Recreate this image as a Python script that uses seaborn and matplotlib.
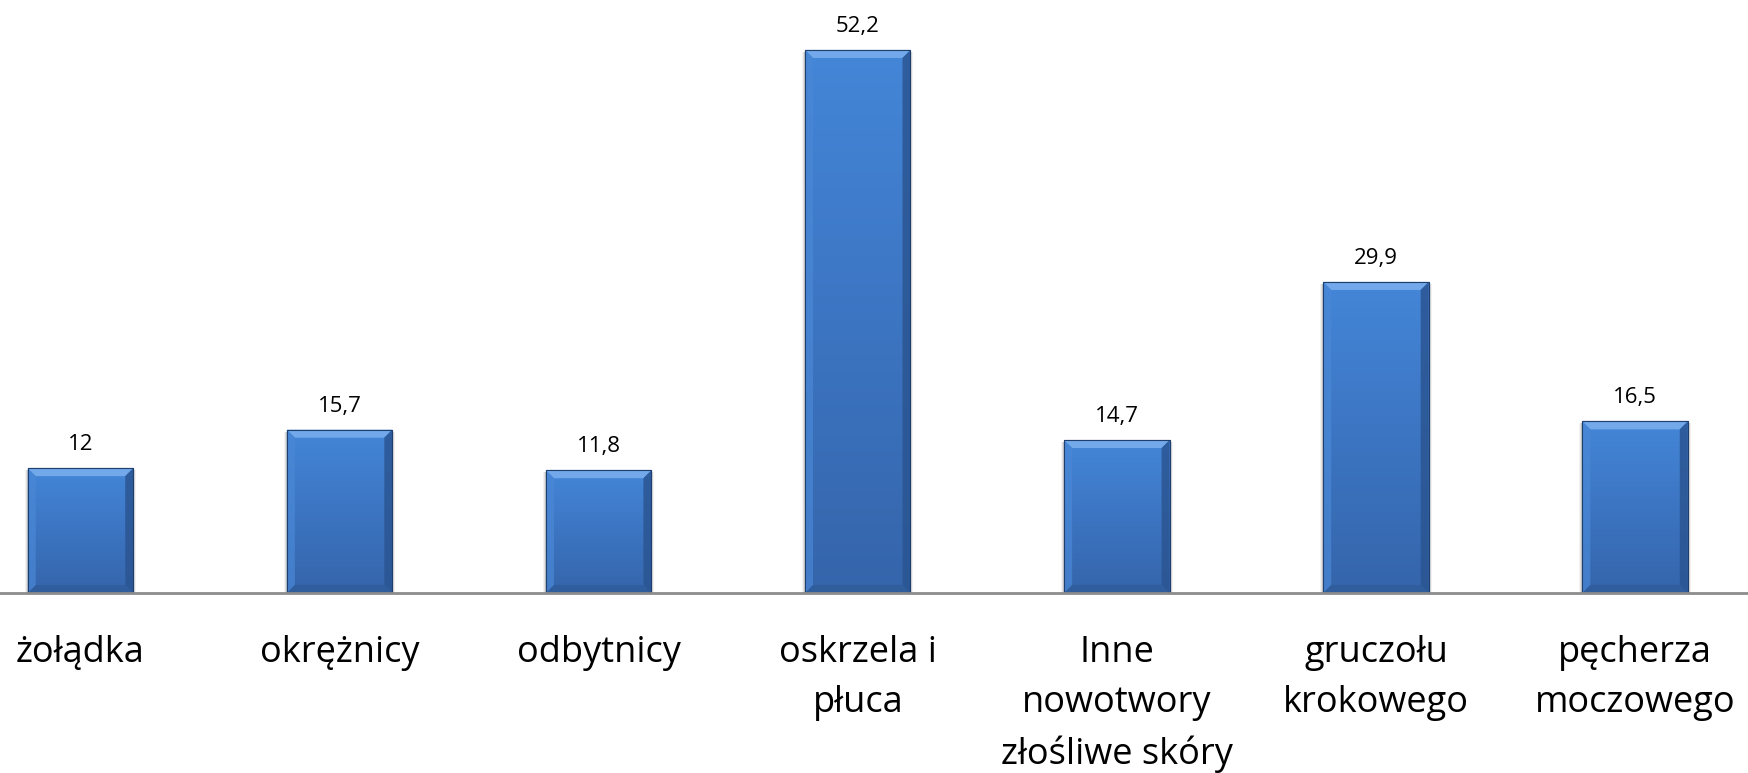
import numpy as np
import pandas as pd
import matplotlib
matplotlib.use("Agg")
import matplotlib.pyplot as plt
from matplotlib.patches import Polygon
from matplotlib.colors import LinearSegmentedColormap
import seaborn as sns

categories = [
    "żołądka",
    "okrężnicy",
    "odbytnicy",
    "oskrzela i\npłuca",
    "Inne\nnowotwory\nzłośliwe skóry",
    "gruczołu\nkrokowego",
    "pęcherza\nmoczowego",
]
values = [12.0, 15.7, 11.8, 52.2, 14.7, 29.9, 16.5]
value_labels = ["12", "15,7", "11,8", "52,2", "14,7", "29,9", "16,5"]

sns.set_theme(style="white")
plt.rcParams["font.family"] = ["Open Sans", "DejaVu Sans"]

df = pd.DataFrame({"kategoria": categories, "wartosc": values})

fig = plt.figure(figsize=(17.48, 7.73), dpi=100)
ax = fig.add_axes([0.0, 0.2329, 1.0, 0.7671])

sns.barplot(data=df, x="kategoria", y="wartosc", color="#3f7dcd",
            width=0.407, ax=ax, edgecolor="#1f3f6e", linewidth=0.8,
            saturation=1, zorder=3)

ax.set_xlim(-0.3107, 6.436)
ax.set_ylim(0, 57.0)
ax.set_xlabel("")
ax.set_ylabel("")
ax.set_yticks([])
for side in ["left", "right", "top"]:
    ax.spines[side].set_visible(False)
ax.spines["bottom"].set_color("#8c8c8c")
ax.spines["bottom"].set_linewidth(2.0)
ax.spines["bottom"].set_zorder(5)
ax.tick_params(axis="x", length=0, pad=30.5, labelsize=26, colors="black")
for lbl in ax.get_xticklabels():
    lbl.set_linespacing(1.50)

fig.canvas.draw()
# pixel -> data scale factors for the bevel
px_x = (ax.get_xlim()[1] - ax.get_xlim()[0]) / ax.bbox.width
px_y = (ax.get_ylim()[1] - ax.get_ylim()[0]) / ax.bbox.height

grad = LinearSegmentedColormap.from_list("bar", ["#3565ab", "#3c75c2", "#4486d8"])
bevel = 8

for patch, lab in zip(ax.patches, value_labels):
    x0, y0 = patch.get_x(), patch.get_y()
    w, h = patch.get_width(), patch.get_height()
    x1, y1 = x0 + w, y0 + h
    bx, by = bevel * px_x, bevel * px_y

    # soft shadow around the bar
    for k, a in [(3, 0.05), (2, 0.07), (1, 0.09)]:
        ax.add_patch(plt.Rectangle((x0 - k * px_x, y0), w + 2 * k * px_x, h - 2 * px_y,
                                   color="black", alpha=a, lw=0, zorder=2))

    # vertical gradient fill clipped to the bar
    img = ax.imshow(np.linspace(0, 1, 256).reshape(-1, 1), cmap=grad, aspect="auto",
                    extent=(x0, x1, y0, y1), origin="lower", zorder=3.5,
                    interpolation="bilinear")
    img.set_clip_path(patch)

    # bevel faces
    faces = [
        ([(x0, y1), (x1, y1), (x1 - bx, y1 - by), (x0 + bx, y1 - by)], "#76acec", 0.95),
        ([(x0, y0), (x0, y1), (x0 + bx, y1 - by), (x0 + bx, y0 + by)], "#4a88d6", 0.7),
        ([(x1, y0), (x1, y1), (x1 - bx, y1 - by), (x1 - bx, y0 + by)], "#2b5592", 0.85),
        ([(x0, y0), (x1, y0), (x1 - bx, y0 + by), (x0 + bx, y0 + by)], "#2e5893", 0.6),
    ]
    for pts, c, a in faces:
        ax.add_patch(Polygon(pts, closed=True, facecolor=c, edgecolor="none",
                             alpha=a, zorder=3.6))
    ax.add_patch(plt.Rectangle((x0, y0), w, h, fill=False, edgecolor="#1f3f6e",
                               lw=0.8, zorder=3.7))

    ax.annotate(lab, (x0 + w / 2, y1), xytext=(0, 13), textcoords="offset points",
                ha="center", va="baseline", fontsize=16, color="black")

fig.savefig("out.png", dpi=100)
